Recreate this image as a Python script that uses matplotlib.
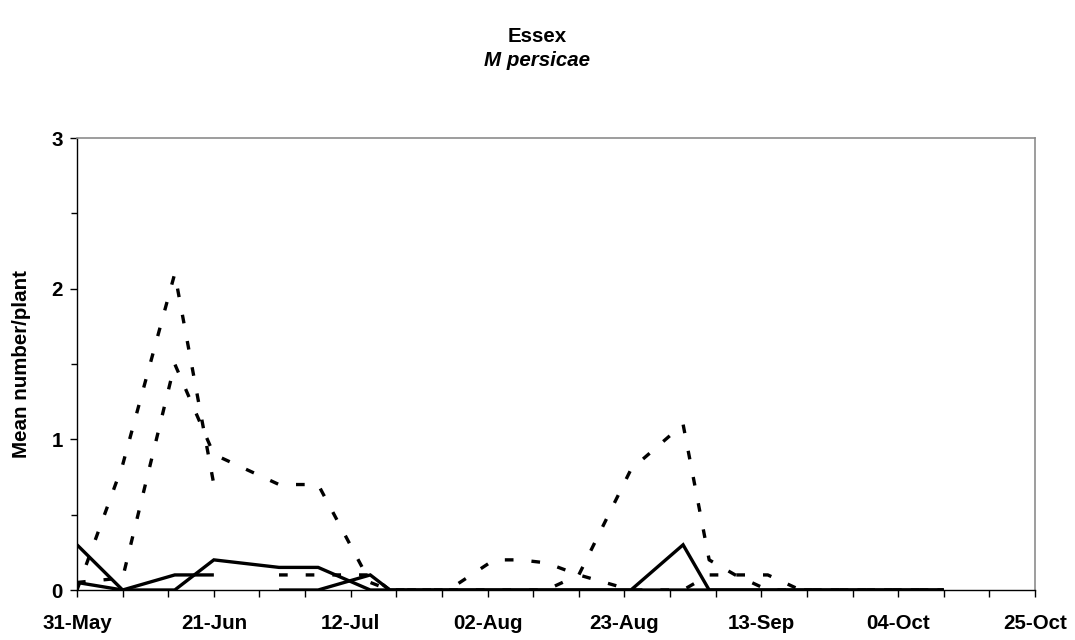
import numpy as np
import pandas as pd
import matplotlib
matplotlib.use("Agg")
import matplotlib.pyplot as plt
import matplotlib.dates as mdates

# Sampling dates
sample_dates = [
    "2002-05-31", "2002-06-07", "2002-06-15", "2002-06-21", "2002-06-26",
    "2002-07-01", "2002-07-07", "2002-07-15", "2002-07-18", "2002-07-27",
    "2002-08-03", "2002-08-07", "2002-08-11", "2002-08-16", "2002-08-24",
    "2002-09-01", "2002-09-05", "2002-09-09", "2002-09-14", "2002-09-19",
    "2002-09-27", "2002-10-04", "2002-10-11",
]

# Mean number of M. persicae per plant (None = not sampled)
solid_1 = [0.3, 0, 0.1, 0.1, None, 0, 0, 0.1, 0, 0, 0, 0, 0, 0, 0,
           0, 0, 0, 0, 0, 0, 0, 0]
solid_2 = [0.05, 0, 0, 0.2, None, 0.15, 0.15, 0, 0, 0, 0, 0, 0, 0, 0,
           0.3, 0, 0, 0, 0, 0, 0, 0]
dashed_1 = [0, 0.83, 2.1, 0.7, None, 0.1, 0.1, 0.1, 0, 0, 0.2, 0.2, 0.18, 0.1, 0,
            0, 0.1, 0.1, 0.1, 0, 0, 0, 0]
dashed_2 = [0.05, 0.08, 1.5, 0.9, None, 0.7, 0.7, 0.05, 0, 0, 0, 0, 0, 0.1, 0.8,
            1.1, 0.2, 0.1, 0, 0, 0, 0, 0]

x_start, x_end = "2002-05-31", "2002-10-25"
y_ticks = [0, 1, 2, 3]

plt.rcParams["font.family"] = ["Liberation Sans", "DejaVu Sans"]
plt.rcParams["font.weight"] = "bold"
FS = 14.8

fig = plt.figure(figsize=(10.75, 6.4), dpi=100)
ax = fig.add_axes([77 / 1075, 1 - 590 / 640, (1035 - 77) / 1075, (590 - 138) / 640])

dates = pd.to_datetime(sample_dates)


def series(values, bridge):
    v = np.array([np.nan if a is None else a for a in values], dtype=float)
    d = dates
    if bridge:
        keep = ~np.isnan(v)
        d, v = d[keep], v[keep]
    return d, v


dash_kw = dict(color="black", lw=2.4, linestyle=(0, (2.6, 5.4)),
               dash_capstyle="butt", zorder=3)
solid_kw = dict(color="black", lw=2.4, solid_joinstyle="miter",
                solid_capstyle="butt", zorder=4)

ax.plot(*series(dashed_1, bridge=False), **dash_kw)
ax.plot(*series(dashed_2, bridge=True), **dash_kw)
ax.plot(*series(solid_1, bridge=False), **solid_kw)
ax.plot(*series(solid_2, bridge=True), **solid_kw)

ax.set_xlim(pd.Timestamp(x_start), pd.Timestamp(x_end))
ax.set_ylim(0, 3)

ax.set_xticks(pd.date_range(x_start, x_end, freq="21D"))
ax.set_xticks(pd.date_range(x_start, x_end, freq="7D"), minor=True)
ax.xaxis.set_major_formatter(mdates.DateFormatter("%d-%b"))
ax.set_yticks(y_ticks)
ax.set_yticks(np.arange(0, 3.01, 0.5), minor=True)

ax.tick_params(axis="x", which="both", direction="out", length=5, width=1,
               labelsize=FS, pad=12)
ax.tick_params(axis="y", which="major", direction="out", length=5, width=1,
               labelsize=FS, pad=5)
ax.tick_params(axis="y", which="minor", direction="out", length=4, width=1)

for side in ("top", "right"):
    ax.spines[side].set_color("#8c8c8c")
    ax.spines[side].set_linewidth(1.2)
for side in ("left", "bottom"):
    ax.spines[side].set_color("black")
    ax.spines[side].set_linewidth(1.0)

ax.set_ylabel("Mean number/plant", fontsize=FS, fontweight="bold")
ax.yaxis.set_label_coords((31 - 77) / 958, 0.5)

fig.text(0.5, 1 - 36 / 640, "Essex", ha="center", va="center",
         fontsize=FS, fontweight="bold")
fig.text(0.5, 1 - 61 / 640, "M persicae", ha="center", va="center",
         fontsize=FS, fontweight="bold", fontstyle="italic")

fig.savefig("out.png", dpi=100, facecolor="white")
